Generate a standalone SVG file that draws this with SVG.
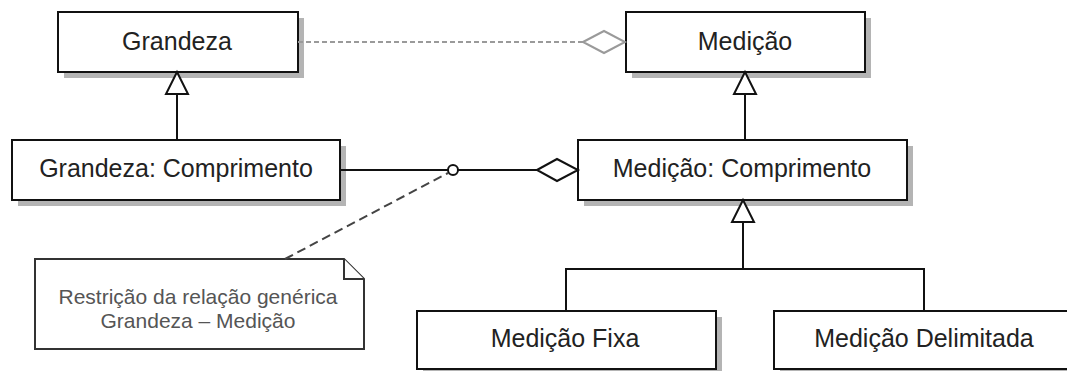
<svg xmlns="http://www.w3.org/2000/svg" width="1067" height="371" viewBox="0 0 1067 371">
  <style>
    .box { fill: #ffffff; stroke: #111111; stroke-width: 2; }
    .shadow { fill: #b4b4b4; stroke: none; }
    .label { font-family: "Liberation Sans", Arial, sans-serif; font-size: 25px; fill: #222222; text-anchor: middle; }
    .note-text { font-family: "Liberation Sans", Arial, sans-serif; font-size: 21px; fill: #555555; text-anchor: middle; }
    .line { fill: none; stroke: #111111; stroke-width: 2; }
    .gen { fill: #ffffff; stroke: #111111; stroke-width: 2; stroke-linejoin: miter; }
    .agg { fill: #ffffff; stroke: #111111; stroke-width: 2; }
    .generic { fill: none; stroke: #9a9a9a; stroke-width: 2; stroke-dasharray: 5 3; }
    .generic-agg { fill: #ffffff; stroke: #9a9a9a; stroke-width: 2; }
    .anchor { fill: none; stroke: #444444; stroke-width: 2; stroke-dasharray: 9 5; }
    .note { fill: #ffffff; stroke: #333333; stroke-width: 2; stroke-linejoin: miter; }
  </style>

  <rect width="1067" height="371" fill="#ffffff"/>

  <!-- classes -->
  <g id="grandeza">
    <rect class="shadow" x="64" y="18" width="240" height="60"/>
    <rect class="box" x="58" y="12" width="240" height="60"/>
    <text class="label" x="177" y="50">Grandeza</text>
  </g>

  <g id="medicao">
    <rect class="shadow" x="632" y="18" width="239" height="60"/>
    <rect class="box" x="626" y="12" width="239" height="60"/>
    <text class="label" x="745" y="50">Medição</text>
  </g>

  <g id="grandeza-comprimento">
    <rect class="shadow" x="18" y="146" width="328" height="60"/>
    <rect class="box" x="12" y="140" width="328" height="60"/>
    <text class="label" x="176" y="177">Grandeza: Comprimento</text>
  </g>

  <g id="medicao-comprimento">
    <rect class="shadow" x="584" y="146" width="329" height="60"/>
    <rect class="box" x="578" y="140" width="329" height="60"/>
    <text class="label" x="742" y="177">Medição: Comprimento</text>
  </g>

  <g id="medicao-fixa">
    <rect class="shadow" x="423" y="317" width="299" height="58"/>
    <rect class="box" x="417" y="311" width="299" height="58"/>
    <text class="label" x="565" y="347">Medição Fixa</text>
  </g>

  <g id="medicao-delimitada">
    <rect class="shadow" x="780" y="317" width="301" height="58"/>
    <rect class="box" x="774" y="311" width="301" height="58"/>
    <text class="label" x="924" y="347">Medição Delimitada</text>
  </g>

  <!-- constraint note -->
  <g id="nota">
    <path class="note" d="M35,259 H344 L364,279 V349 H35 Z"/>
    <path class="note" d="M344,259 V279 H364"/>
    <text class="note-text" x="198" y="304">Restrição da relação genérica</text>
    <text class="note-text" x="198" y="328">Grandeza – Medição</text>
  </g>

  <g id="connectors">
    <!-- generic aggregation Grandeza <>- Medição -->
    <line class="generic" x1="298" y1="42" x2="583" y2="42"/>
    <polygon class="generic-agg" points="583,42 604,31 625,42 604,53"/>

    <!-- Grandeza: Comprimento generalizes Grandeza -->
    <line class="line" x1="177" y1="94" x2="177" y2="140"/>
    <polygon class="gen" points="177,72 188,94 166,94"/>

    <!-- Medição: Comprimento generalizes Medição -->
    <line class="line" x1="745" y1="94" x2="745" y2="140"/>
    <polygon class="gen" points="745,72 756,94 734,94"/>

    <!-- specific aggregation -->
    <line class="line" x1="340" y1="170" x2="537" y2="170"/>
    <polygon class="agg" points="537,170 557,159 578,170 557,181"/>

    <!-- note anchor -->
    <line class="anchor" x1="285" y1="259" x2="448" y2="173"/>
    <circle cx="453" cy="170" r="5" fill="#ffffff" stroke="#111111" stroke-width="2"/>

    <!-- subclasses of Medição: Comprimento -->
    <polyline class="line" points="566,311 566,269 924,269 924,311"/>
    <line class="line" x1="743" y1="222" x2="743" y2="269"/>
    <polygon class="gen" points="743,200 754,222 732,222"/>
  </g>
</svg>
